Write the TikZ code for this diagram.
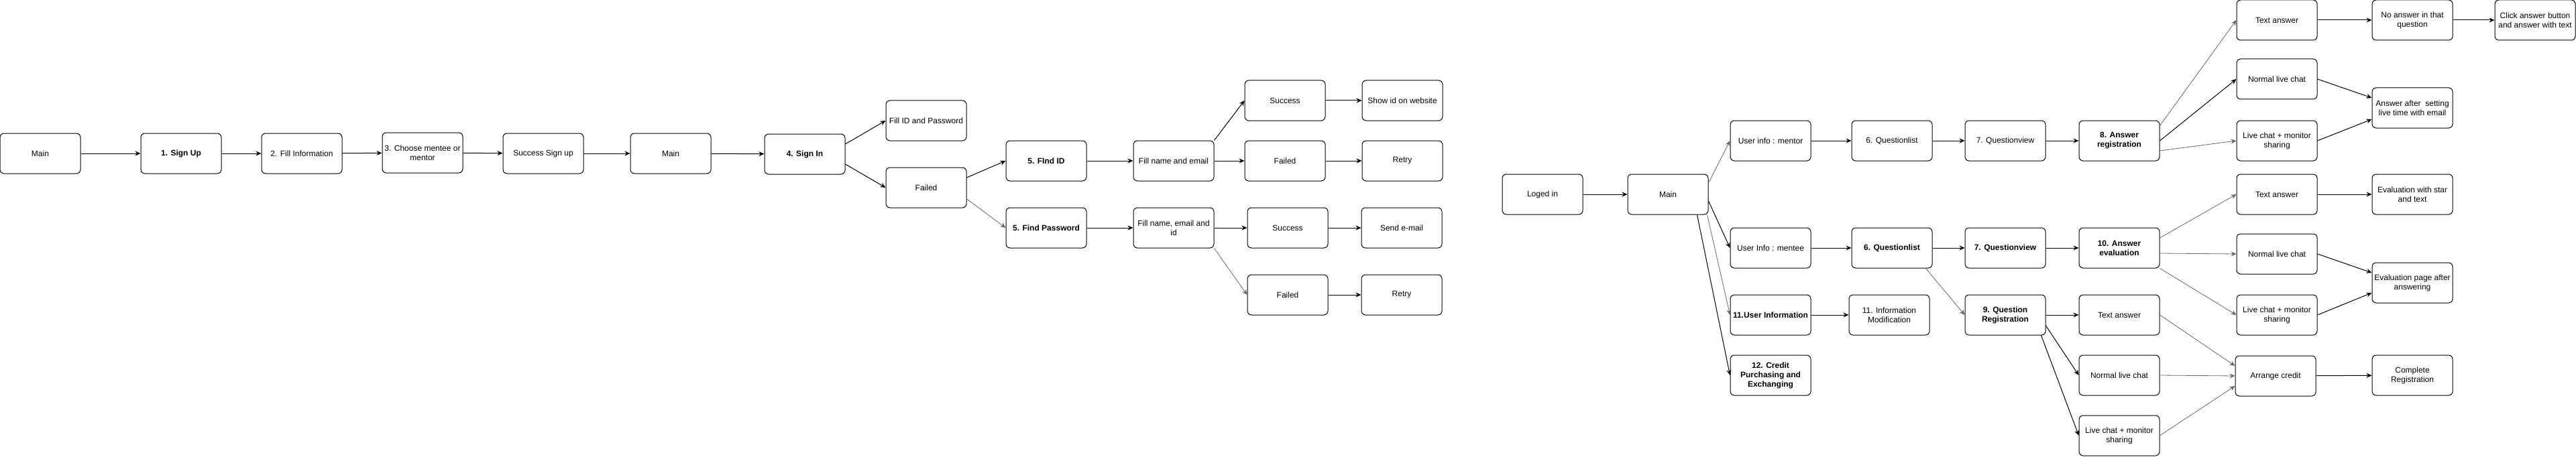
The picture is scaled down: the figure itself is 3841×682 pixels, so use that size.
\documentclass[tikz,border=0pt]{standalone}
\usepackage{fontspec}
\setmainfont{Liberation Sans}
\usepackage{tikz}
\usetikzlibrary{arrows.meta}
\tikzstyle{screen}=[draw, line width=1pt, rounded corners=6pt, minimum width=120pt, minimum height=60pt, inner sep=1pt, align=center, font=\fontsize{12}{14}\selectfont]
\tikzstyle{keyscreen}=[screen, font=\fontsize{12}{14}\selectfont\bfseries]
\tikzstyle{flow}=[line width=1pt, -{Stealth[length=8pt,width=7pt]}]
\tikzstyle{faint}=[flow, draw=black!60, line width=0.8pt]

\begin{document}
\begin{tikzpicture}[x=1pt, y=-1pt]
	\useasboundingbox (0,0) rectangle (3841,682);
	% sign up / sign in
	\node[screen] (main1) at (60,229) {Main};
	\node[keyscreen] (signup) at (270,229) {1. Sign Up};
	\node[screen] (fillinfo) at (450,229) {2. Fill Information};
	\node[screen] (choose) at (630,228) {3. Choose mentee or\\mentor};
	\node[screen] (successup) at (810,229) {Success Sign up};
	\node[screen] (main2) at (1000,229) {Main};
	\node[keyscreen] (signin) at (1200,230) {4. Sign In};
	\node[screen] (fillid) at (1381,180) {Fill ID and Password};
	\node[screen] (failed) at (1381,280) {Failed};
	\node[keyscreen] (findid) at (1560,240) {5. FInd ID};
	\node[keyscreen] (findpw) at (1560,340) {5. Find Password};
	\node[screen] (fillne) at (1750,240) {Fill name and email};
	\node[screen] (fillnei) at (1750,340) {Fill name, email and\\id};
	\node[screen] (succid) at (1916,150) {Success};
	\node[screen] (showid) at (2091,150) {Show id on website};
	\node[screen] (failid) at (1916,240) {Failed};
	\node[screen] (retryid) at (2091,240) {Retry};
	\node[screen] (succpw) at (1920,340) {Success};
	\node[screen] (sendmail) at (2090,340) {Send e-mail};
	\node[screen] (failpw) at (1920,440) {Failed};
	\node[screen] (retrypw) at (2090,440) {Retry};

	\draw[flow] (main1) -- (signup);
	\draw[flow] (signup) -- (fillinfo);
	\draw[flow] (fillinfo) -- (choose);
	\draw[flow] (choose) -- (successup);
	\draw[flow] (successup) -- (main2);
	\draw[flow] (main2) -- (signin);
	\draw[flow] ([yshift=15pt]signin.east) -- (fillid.west);
	\draw[flow] ([yshift=-15pt]signin.east) -- (failed.west);
	\draw[flow] ([yshift=15pt]failed.east) -- (findid.west);
	\draw[faint] ([yshift=-17pt]failed.east) -- (findpw.west);
	\draw[flow] (findid) -- (fillne);
	\draw[flow] (findpw) -- (fillnei);
	\draw[flow] (fillne.north east) -- (succid.west);
	\draw[flow] (fillne) -- (failid);
	\draw[flow] (succid) -- (showid);
	\draw[flow] (failid) -- (retryid);
	\draw[flow] (fillnei) -- (succpw);
	\draw[faint] (fillnei.south east) -- (failpw.west);
	\draw[flow] (succpw) -- (sendmail);
	\draw[flow] (failpw) -- (retrypw);

	% logged in
	\node[screen] (logedin) at (2300,290) {Loged in};
	\node[screen] (main3) at (2487,290) {Main};
	\node[screen] (mentor) at (2640,210) {User info : mentor};
	\node[screen] (mentee) at (2640,370) {User Info : mentee};
	\node[keyscreen] (userinfo) at (2640,470) {11.User Information};
	\node[keyscreen] (credit) at (2640,560) {12. Credit\\Purchasing and\\Exchanging};
	\node[screen] (qlistA) at (2821,210) {6. Questionlist};
	\node[screen] (qviewA) at (2990,210) {7. Questionview};
	\node[keyscreen] (ansreg) at (3160,210) {8. Answer\\registration};
	\node[screen] (textA) at (3395,30) {Text answer};
	\node[screen] (noans) at (3597,30) {No answer in that\\question};
	\node[screen] (click) at (3780,30) {Click answer button\\and answer with text};
	\node[screen] (normalA) at (3395,118) {Normal live chat};
	\node[screen] (after) at (3597,161) {Answer after\ \ setting\\live time with email};
	\node[screen] (liveA) at (3395,210) {Live chat + monitor\\sharing};
	\node[keyscreen] (qlistB) at (2821,370) {6. Questionlist};
	\node[keyscreen] (qviewB) at (2990,370) {7. Questionview};
	\node[keyscreen] (anseval) at (3160,370) {10. Answer\\evaluation};
	\node[screen] (textB) at (3395,290) {Text answer};
	\node[screen] (evalstar) at (3597,290) {Evaluation with star\\and text};
	\node[screen] (normalB) at (3395,379) {Normal live chat};
	\node[screen] (evalpage) at (3597,422) {Evaluation page after\\answering};
	\node[screen] (liveB) at (3395,470) {Live chat + monitor\\sharing};
	\node[screen] (infomod) at (2817,470) {11. Information\\Modification};
	\node[keyscreen] (qreg) at (2990,470) {9. Question\\Registration};
	\node[screen] (textC) at (3160,470) {Text answer};
	\node[screen] (normalC) at (3160,560) {Normal live chat};
	\node[screen] (liveC) at (3160,650) {Live chat + monitor\\sharing};
	\node[screen] (arrange) at (3393,561) {Arrange credit};
	\node[screen] (complete) at (3597,560) {Complete\\Registration};

	\draw[flow] (logedin) -- (main3);
	\draw[faint] ([yshift=17pt]main3.east) -- (mentor.west);
	\draw[flow] ([yshift=-10pt]main3.east) -- (mentee.west);
	\draw[faint] ([xshift=-2pt]main3.south east) -- (userinfo.west);
	\draw[flow] ([xshift=-17pt]main3.south east) -- (credit.west);
	\draw[flow] (mentor) -- (qlistA);
	\draw[flow] (qlistA) -- (qviewA);
	\draw[flow] (qviewA) -- (ansreg);
	\draw[faint] ([yshift=-8pt]ansreg.north east) -- (textA.west);
	\draw[flow] (ansreg.east) -- (normalA.west);
	\draw[faint] ([yshift=-15pt]ansreg.east) -- (liveA.west);
	\draw[flow] (textA) -- (noans);
	\draw[flow] (noans) -- (click);
	\draw[flow] (normalA.east) -- ([yshift=15pt]after.west);
	\draw[flow] (liveA.east) -- ([yshift=-17pt]after.west);
	\draw[flow] (mentee) -- (qlistB);
	\draw[flow] (qlistB) -- (qviewB);
	\draw[flow] (qviewB) -- (anseval);
	\draw[faint] ([xshift=-10pt]qlistB.south east) -- (qreg.west);
	\draw[faint] ([yshift=15pt]anseval.east) -- (textB.west);
	\draw[faint] ([yshift=-8pt]anseval.east) -- (normalB.west);
	\draw[faint] (anseval.south east) -- (liveB.west);
	\draw[flow] (textB) -- (evalstar);
	\draw[flow] (normalB.east) -- ([yshift=15pt]evalpage.west);
	\draw[flow] (liveB.east) -- ([yshift=-15pt]evalpage.west);
	\draw[flow] (userinfo) -- (infomod);
	\draw[flow] (qreg) -- (textC);
	\draw[flow] ([yshift=-16pt]qreg.east) -- (normalC.west);
	\draw[flow] ([xshift=-7pt]qreg.south east) -- (liveC.west);
	\draw[faint] (textC.east) -- ([yshift=15pt]arrange.west);
	\draw[faint] (normalC.east) -- (arrange.west);
	\draw[faint] (liveC.east) -- ([yshift=-15pt]arrange.west);
	\draw[flow] (arrange) -- (complete);
\end{tikzpicture}
\end{document}
